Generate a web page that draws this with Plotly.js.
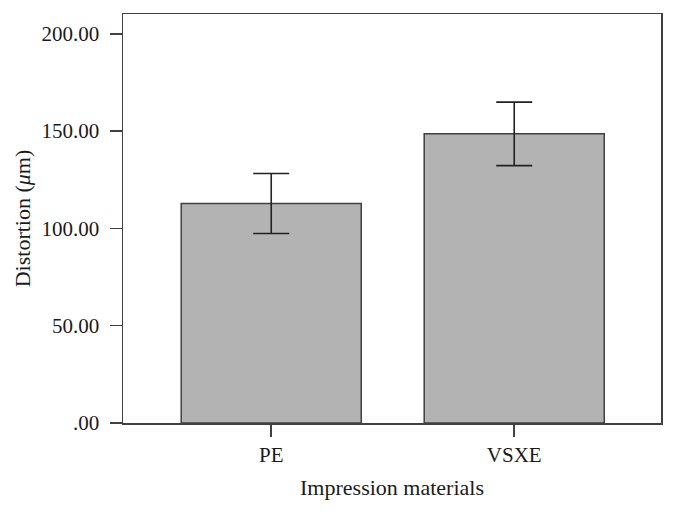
<!DOCTYPE html>
<html>
<head>
<meta charset="utf-8">
<script src="https://cdn.plot.ly/plotly-3.0.1.min.js"></script>
<style>html,body{margin:0;padding:0;background:#fff;}#chart{width:676px;height:514px;}</style>
</head>
<body>
<div id="chart"></div>
<script>
var categories = ["PE", "VSXE"];
var meanValues = [112.8, 148.6];
var errorValues = [15.4, 16.3];
var yTickValues = [0, 50, 100, 150, 200];
var yTickLabels = [".00", "50.00", "100.00", "150.00", "200.00"];

var serif = "Liberation Serif, Times New Roman, serif";

var trace = {
  type: "bar",
  x: categories,
  y: meanValues,
  width: 0.741,
  marker: { color: "#b3b3b3", line: { color: "#404040", width: 1.5 } },
  error_y: { type: "data", array: errorValues, visible: true, color: "#222222", thickness: 1.6, width: 18 },
  hoverinfo: "none"
};

var layout = {
  width: 676, height: 514,
  margin: { l: 123, r: 15, t: 14, b: 91 },
  paper_bgcolor: "#ffffff",
  plot_bgcolor: "#ffffff",
  showlegend: false,
  font: { family: serif, color: "#1a1a1a", size: 21 },
  xaxis: {
    range: [-0.61, 1.604],
    showline: true, linecolor: "#404040", linewidth: 1.5, mirror: true,
    ticks: "outside", ticklen: 12, tickcolor: "#404040", tickwidth: 1.5,
    showgrid: false, zeroline: false,
    tickfont: { family: serif, size: 21, color: "#1a1a1a" },
    title: { text: "Impression materials", font: { family: serif, size: 22, color: "#1a1a1a" }, standoff: 14 }
  },
  yaxis: {
    range: [0, 210.2],
    tickvals: yTickValues, ticktext: yTickLabels,
    showline: true, linecolor: "#404040", linewidth: 1.5, mirror: true,
    ticks: "outside", ticklen: 12, tickcolor: "#404040", tickwidth: 1.5,
    showgrid: false, zeroline: false,
    tickfont: { family: serif, size: 21, color: "#1a1a1a" },
    ticklabelstandoff: 6,
    title: { text: "Distortion (<i>μ</i>m)", font: { family: serif, size: 22, color: "#1a1a1a" }, standoff: 5 }
  }
};

Plotly.newPlot("chart", [trace], layout, { displayModeBar: false, staticPlot: true });
</script>
</body>
</html>
